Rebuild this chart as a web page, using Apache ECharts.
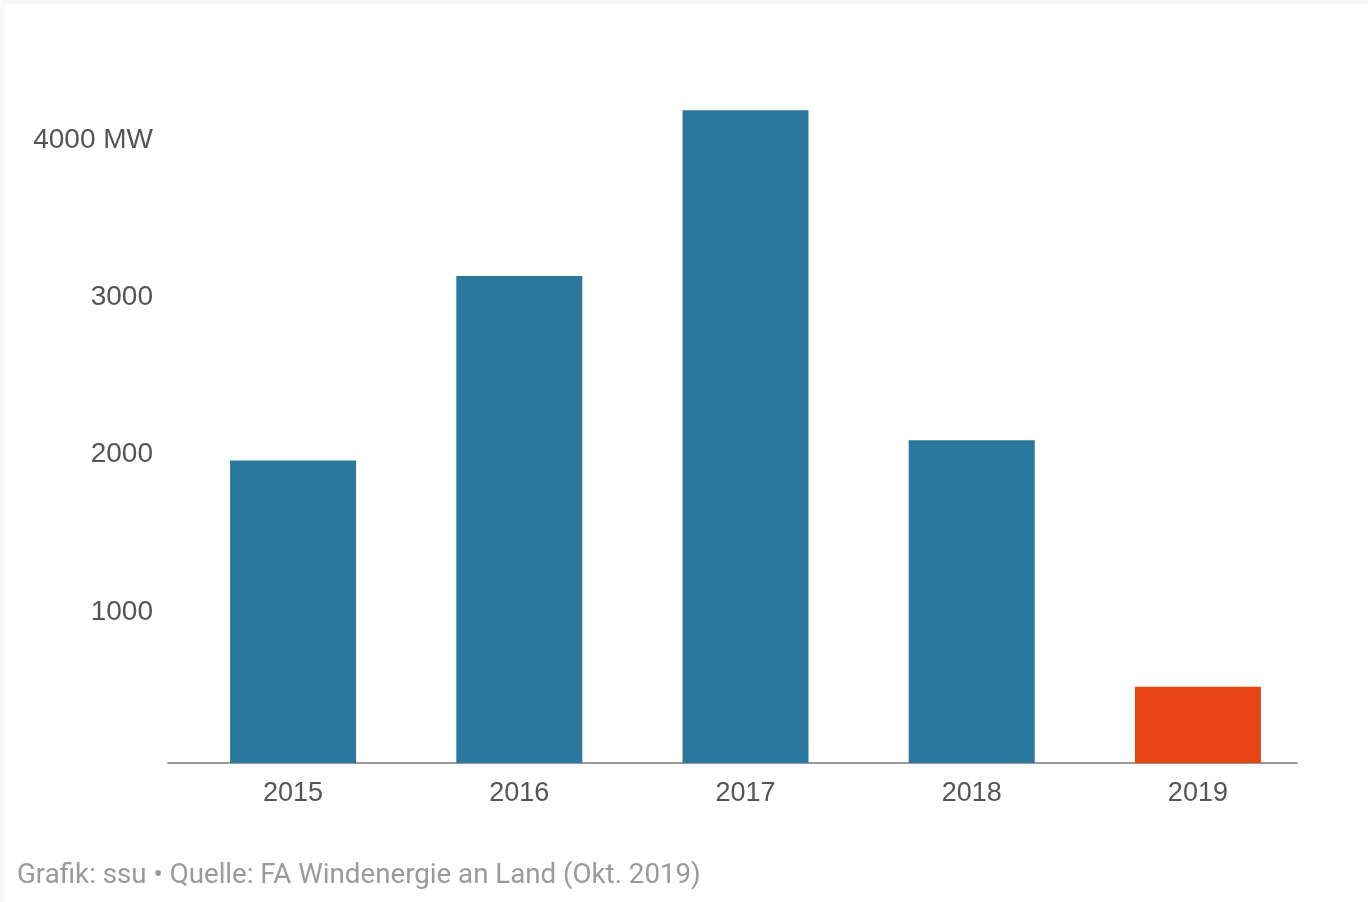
<!DOCTYPE html>
<html>
<head>
<meta charset="utf-8">
<script src="https://cdn.jsdelivr.net/npm/echarts@6/dist/echarts.min.js"></script>
<style>
  html, body { margin: 0; padding: 0; background: #fff; }
  #chart { width: 1368px; height: 902px; }
  .edge { position: absolute; background: #f7f8fa; }
</style>
</head>
<body>
<div id="chart"></div>
<div class="edge" style="left:0;top:0;width:5px;height:902px"></div>
<div class="edge" style="left:0;top:0;width:1368px;height:4px"></div>
<script>
// Zubau Windenergie an Land, MW
const years = ['2015', '2016', '2017', '2018', '2019'];
const values = [1925, 3100, 4155, 2055, 485];
const barColors = ['#2a789e', '#2a789e', '#2a789e', '#2a789e', '#e64415'];
const sourceText = 'Grafik: ssu • Quelle: FA Windenergie an Land (Okt. 2019)';

const chart = echarts.init(document.getElementById('chart'));

const labelFont = '"Liberation Sans", Arial, sans-serif';

chart.setOption({
    animation: false,
    backgroundColor: 'transparent',
    title: {
        text: sourceText,
        left: 12,
        top: 857,
        textStyle: {
            fontFamily: '"Liberation Sans Narrow", "Roboto", sans-serif',
            fontSize: 27.7,
            fontWeight: 'normal',
            color: '#9a9a9a'
        }
    },
    grid: [
        { left: 180, right: 57, top: 56, bottom: 139 },
        // baseline runs a little left of the bars' band
        { left: 168, right: 71, top: 56, bottom: 139 }
    ],
    xAxis: [{
        type: 'category',
        data: years,
        gridIndex: 0,
        axisLine: { show: false },
        axisTick: { show: false },
        axisLabel: {
            margin: 17,
            fontSize: 27,
            fontFamily: labelFont,
            color: '#555'
        }
    }, {
        type: 'category',
        data: years,
        gridIndex: 1,
        axisLine: { lineStyle: { color: '#999', width: 2 } },
        axisTick: { show: false },
        axisLabel: { show: false }
    }],
    yAxis: [{
        type: 'value',
        gridIndex: 0,
        min: 0,
        max: 4500,
        interval: 1000,
        splitLine: { show: false },
        axisLine: { show: false },
        axisTick: { show: false },
        axisLabel: {
            margin: 27,
            fontSize: 28,
            fontFamily: labelFont,
            color: '#555',
            formatter: function (v) {
                if (v === 4000) return '{t|4000 MW}';
                if (v > 0 && v < 4000) return '{t|' + v + '}';
                return '';
            },
            rich: {
                t: {
                    fontSize: 28,
                    fontFamily: labelFont,
                    color: '#555',
                    padding: [12, 0, 0, 0]
                }
            }
        }
    }, {
        type: 'value',
        gridIndex: 1,
        min: 0,
        max: 4500,
        show: false
    }],
    series: [{
        type: 'bar',
        barWidth: 126,
        z: 3,
        data: values.map((v, i) => ({ value: v, itemStyle: { color: barColors[i] } }))
    }]
});
</script>
</body>
</html>
